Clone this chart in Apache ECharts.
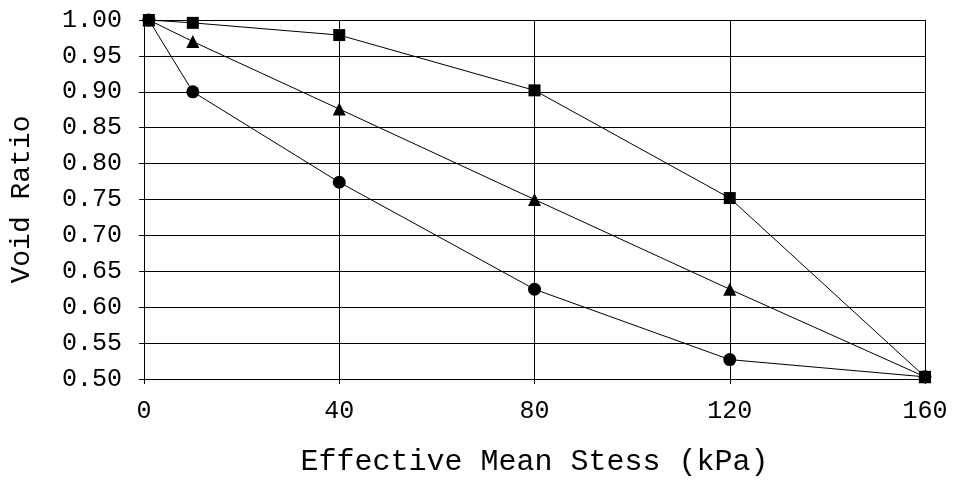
<!DOCTYPE html>
<html>
<head>
<meta charset="utf-8">
<script src="https://cdn.jsdelivr.net/npm/echarts@6/dist/echarts.min.js"></script>
<style>html,body{margin:0;padding:0;background:#fff}#c{width:953px;height:482px}</style>
</head>
<body>
<div id="c"></div>
<script>
var stress = [1, 10, 40, 80, 120, 160];
var squareVoid = [1.000, 0.996, 0.979, 0.902, 0.752, 0.503];
var triangleVoid = [1.000, 0.970, 0.876, 0.750, 0.625, 0.503];
var circleVoid = [1.000, 0.900, 0.774, 0.625, 0.527, 0.503];
var xTicks = [0, 40, 80, 120, 160];
var yTicks = [0.50, 0.55, 0.60, 0.65, 0.70, 0.75, 0.80, 0.85, 0.90, 0.95, 1.00];
var xTitle = 'Effective Mean Stess (kPa)';
var yTitle = 'Void Ratio';

function pairs(ys){ return stress.map(function(x,i){ return [x, ys[i]]; }); }
var FONT = '"Liberation Mono", "Courier New", monospace';
function mk(name, sym, size, ys){
  return {
    name: name, type: 'line', data: pairs(ys), symbol: sym, symbolSize: size,
    showAllSymbol: true,
    lineStyle: {color: '#000', width: 1}, itemStyle: {color: '#000'},
    emphasis: {disabled: true}, animation: false
  };
}
var chart = echarts.init(document.getElementById('c'), null, {renderer: 'canvas'});
chart.setOption({
  backgroundColor: '#fff',
  animation: false,
  grid: {left: 144, right: 28, top: 20, bottom: 103, containLabel: false},
  xAxis: {
    type: 'value', min: xTicks[0], max: xTicks[xTicks.length-1], interval: 40,
    name: xTitle, nameLocation: 'middle', nameGap: 68,
    nameTextStyle: {fontFamily: FONT, fontSize: 30, color: '#000'},
    axisLine: {show: true, lineStyle: {color: '#000', width: 1}},
    axisTick: {show: true, length: 5, lineStyle: {color: '#000'}},
    axisLabel: {fontFamily: FONT, fontSize: 25, color: '#000', margin: 20},
    splitLine: {show: true, lineStyle: {color: '#000', width: 1}}
  },
  yAxis: {
    type: 'value', min: yTicks[0], max: yTicks[yTicks.length-1], interval: 0.05,
    name: yTitle, nameLocation: 'middle', nameGap: 108, nameRotate: 90,
    nameTextStyle: {fontFamily: FONT, fontSize: 28, color: '#000'},
    axisLine: {show: true, lineStyle: {color: '#000', width: 1}},
    axisTick: {show: true, length: 5, lineStyle: {color: '#000'}},
    axisLabel: {fontFamily: FONT, fontSize: 25, color: '#000', margin: 22,
      formatter: function(v){ return v.toFixed(2); }},
    splitLine: {show: true, lineStyle: {color: '#000', width: 1}}
  },
  series: [
    mk('square', 'rect', 12, squareVoid),
    mk('triangle', 'triangle', 13, triangleVoid),
    mk('circle', 'circle', 13, circleVoid)
  ]
});
</script>
</body>
</html>
